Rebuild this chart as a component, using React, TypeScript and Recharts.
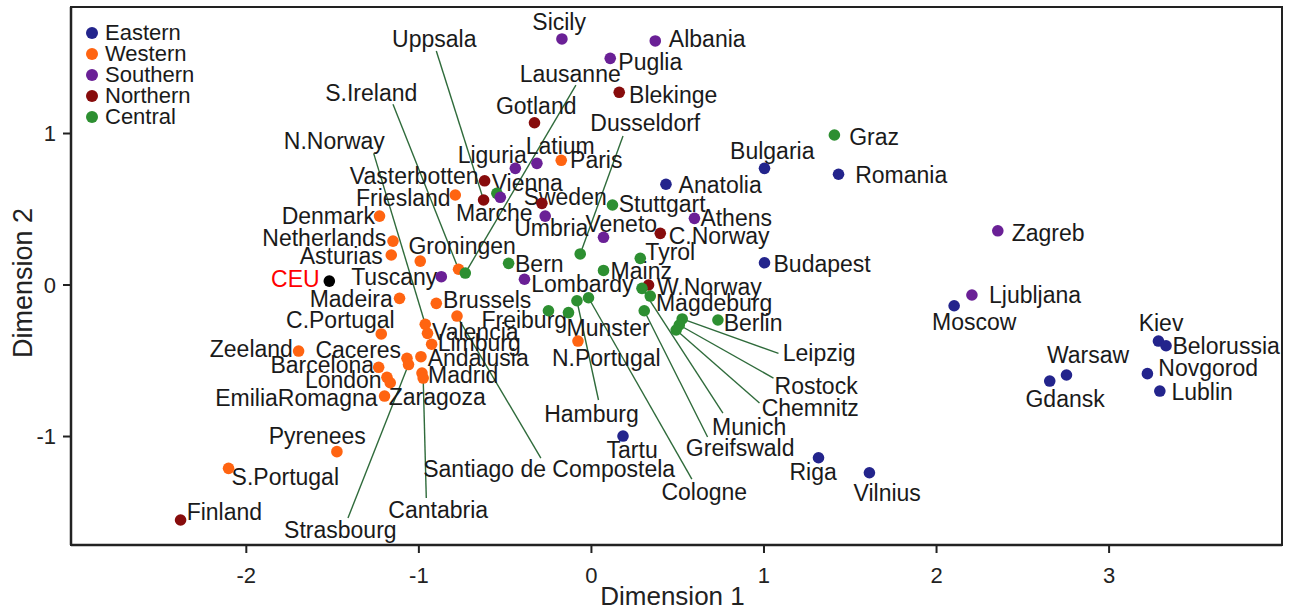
import React from 'react';
import { ScatterChart, Scatter, XAxis, YAxis, ReferenceLine, ReferenceArea } from 'recharts';

type Pt = { name: string; x: number; y: number; lx: number; ly: number };

// x, y = point; lx, ly = centre of its label (data units)
const eastern: Pt[] = [
  { name: 'Anatolia', x: 0.432, y: 0.665, lx: 0.746, ly: 0.66 },
  { name: 'Bulgaria', x: 1.003, y: 0.77, lx: 1.048, ly: 0.884 },
  { name: 'Romania', x: 1.432, y: 0.731, lx: 1.795, ly: 0.726 },
  { name: 'Budapest', x: 1.003, y: 0.147, lx: 1.337, ly: 0.139 },
  { name: 'Moscow', x: 2.102, y: -0.137, lx: 2.218, ly: -0.244 },
  { name: 'Kiev', x: 3.286, y: -0.37, lx: 3.301, ly: -0.251 },
  { name: 'Belorussia', x: 3.33, y: -0.401, lx: 3.678, ly: -0.403 },
  { name: 'Novgorod', x: 3.222, y: -0.585, lx: 3.574, ly: -0.548 },
  { name: 'Lublin', x: 3.294, y: -0.7, lx: 3.539, ly: -0.706 },
  { name: 'Warsaw', x: 2.753, y: -0.594, lx: 2.878, ly: -0.462 },
  { name: 'Gdansk', x: 2.656, y: -0.634, lx: 2.745, ly: -0.752 },
  { name: 'Riga', x: 1.316, y: -1.14, lx: 1.285, ly: -1.234 },
  { name: 'Vilnius', x: 1.611, y: -1.239, lx: 1.714, ly: -1.373 },
  { name: 'Tartu', x: 0.183, y: -0.997, lx: 0.236, ly: -1.089 },
];

const western: Pt[] = [
  { name: 'Paris', x: -0.175, y: 0.823, lx: 0.028, ly: 0.825 },
  { name: 'Friesland', x: -0.789, y: 0.594, lx: -1.09, ly: 0.574 },
  { name: 'Denmark', x: -1.228, y: 0.455, lx: -1.525, ly: 0.455 },
  { name: 'Netherlands', x: -1.15, y: 0.29, lx: -1.548, ly: 0.31 },
  { name: 'Asturias', x: -1.16, y: 0.198, lx: -1.45, ly: 0.191 },
  { name: 'Groningen', x: -0.992, y: 0.158, lx: -0.749, ly: 0.257 },
  { name: 'S.Ireland', x: -0.77, y: 0.104, lx: -1.276, ly: 1.267 },
  { name: 'Madeira', x: -1.112, y: -0.088, lx: -1.392, ly: -0.092 },
  { name: 'Brussels', x: -0.899, y: -0.121, lx: -0.604, ly: -0.099 },
  { name: 'Santiago de Compostela', x: -0.779, y: -0.205, lx: -0.245, ly: -1.215 },
  { name: 'C.Portugal', x: -1.218, y: -0.323, lx: -1.455, ly: -0.231 },
  { name: 'Zeeland', x: -1.697, y: -0.436, lx: -1.971, ly: -0.422 },
  { name: 'N.Norway', x: -0.963, y: -0.259, lx: -1.49, ly: 0.95 },
  { name: 'Valencia', x: -0.95, y: -0.319, lx: -0.673, ly: -0.31 },
  { name: 'Limburg', x: -0.926, y: -0.391, lx: -0.65, ly: -0.383 },
  { name: 'Andalusia', x: -0.988, y: -0.473, lx: -0.656, ly: -0.482 },
  { name: 'Caceres', x: -1.069, y: -0.484, lx: -1.351, ly: -0.429 },
  { name: 'Strasbourg', x: -1.06, y: -0.525, lx: -1.455, ly: -1.617 },
  { name: 'Madrid', x: -0.982, y: -0.581, lx: -0.743, ly: -0.594 },
  { name: 'Cantabria', x: -0.975, y: -0.614, lx: -0.888, ly: -1.485 },
  { name: 'Barcelona', x: -1.233, y: -0.543, lx: -1.56, ly: -0.528 },
  { name: 'London', x: -1.185, y: -0.609, lx: -1.438, ly: -0.627 },
  { name: 'Zaragoza', x: -1.166, y: -0.645, lx: -0.893, ly: -0.739 },
  { name: 'EmiliaRomagna', x: -1.199, y: -0.733, lx: -1.71, ly: -0.746 },
  { name: 'Pyrenees', x: -1.475, y: -1.1, lx: -1.589, ly: -0.997 },
  { name: 'S.Portugal', x: -2.103, y: -1.21, lx: -1.774, ly: -1.267 },
  { name: 'N.Portugal', x: -0.078, y: -0.37, lx: 0.086, ly: -0.482 },
];

const southern: Pt[] = [
  { name: 'Sicily', x: -0.171, y: 1.624, lx: -0.187, ly: 1.736 },
  { name: 'Albania', x: 0.37, y: 1.611, lx: 0.671, ly: 1.624 },
  { name: 'Puglia', x: 0.109, y: 1.496, lx: 0.341, ly: 1.472 },
  { name: 'Liguria', x: -0.441, y: 0.77, lx: -0.575, ly: 0.858 },
  { name: 'Latium', x: -0.316, y: 0.803, lx: -0.181, ly: 0.917 },
  { name: 'Marche', x: -0.528, y: 0.579, lx: -0.563, ly: 0.475 },
  { name: 'Umbria', x: -0.268, y: 0.455, lx: -0.233, ly: 0.376 },
  { name: 'Veneto', x: 0.07, y: 0.315, lx: 0.173, ly: 0.403 },
  { name: 'Athens', x: 0.597, y: 0.44, lx: 0.839, ly: 0.442 },
  { name: 'Tuscany', x: -0.87, y: 0.055, lx: -1.143, ly: 0.053 },
  { name: 'Lombardy', x: -0.388, y: 0.038, lx: -0.053, ly: 0.007 },
  { name: 'Zagreb', x: 2.355, y: 0.358, lx: 2.647, ly: 0.343 },
  { name: 'Ljubljana', x: 2.205, y: -0.066, lx: 2.571, ly: -0.066 },
];

const northern: Pt[] = [
  { name: 'Finland', x: -2.381, y: -1.551, lx: -2.127, ly: -1.498 },
  { name: 'Gotland', x: -0.33, y: 1.071, lx: -0.32, ly: 1.182 },
  { name: 'Blekinge', x: 0.161, y: 1.272, lx: 0.474, ly: 1.254 },
  { name: 'Vasterbotten', x: -0.619, y: 0.688, lx: -1.027, ly: 0.719 },
  { name: 'Uppsala', x: -0.625, y: 0.561, lx: -0.911, ly: 1.624 },
  { name: 'Sweden', x: -0.287, y: 0.539, lx: -0.152, ly: 0.581 },
  { name: 'C.Norway', x: 0.399, y: 0.341, lx: 0.74, ly: 0.323 },
  { name: 'W.Norway', x: 0.331, y: 0.0, lx: 0.683, ly: -0.013 },
];

const central: Pt[] = [
  { name: 'Graz', x: 1.408, y: 0.99, lx: 1.638, ly: 0.977 },
  { name: 'Stuttgart', x: 0.122, y: 0.528, lx: 0.41, ly: 0.535 },
  { name: 'Vienna', x: -0.548, y: 0.605, lx: -0.372, ly: 0.673 },
  { name: 'Dusseldorf', x: -0.065, y: 0.205, lx: 0.312, ly: 1.069 },
  { name: 'Lausanne', x: -0.731, y: 0.079, lx: -0.123, ly: 1.393 },
  { name: 'Bern', x: -0.48, y: 0.143, lx: -0.302, ly: 0.139 },
  { name: 'Tyrol', x: 0.283, y: 0.176, lx: 0.457, ly: 0.218 },
  { name: 'Mainz', x: 0.07, y: 0.096, lx: 0.289, ly: 0.092 },
  { name: 'Freiburg', x: -0.249, y: -0.17, lx: -0.389, ly: -0.231 },
  { name: 'Munster', x: -0.133, y: -0.182, lx: 0.097, ly: -0.284 },
  { name: 'Hamburg', x: -0.084, y: -0.104, lx: 0.0, ly: -0.851 },
  { name: 'Cologne', x: -0.017, y: -0.084, lx: 0.654, ly: -1.366 },
  { name: 'Munich', x: 0.293, y: -0.022, lx: 0.914, ly: -0.937 },
  { name: 'Magdeburg', x: 0.341, y: -0.073, lx: 0.711, ly: -0.119 },
  { name: 'Greifswald', x: 0.306, y: -0.17, lx: 0.862, ly: -1.076 },
  { name: 'Berlin', x: 0.733, y: -0.231, lx: 0.937, ly: -0.251 },
  { name: 'Leipzig', x: 0.526, y: -0.224, lx: 1.32, ly: -0.449 },
  { name: 'Rostock', x: 0.509, y: -0.264, lx: 1.302, ly: -0.667 },
  { name: 'Chemnitz', x: 0.491, y: -0.297, lx: 1.268, ly: -0.812 },
];

const ceu: Pt[] = [{ name: 'CEU', x: -1.519, y: 0.026, lx: -1.716, ly: 0.04 }];

// where each leader line meets its label
const leaders = [
  { name: 'S.Ireland', x: -1.15, y: 1.193 },
  { name: 'Uppsala', x: -0.899, y: 1.545 },
  { name: 'N.Norway', x: -1.262, y: 0.869 },
  { name: 'Strasbourg', x: -1.411, y: -1.538 },
  { name: 'Cantabria', x: -0.957, y: -1.406 },
  { name: 'Santiago de Compostela', x: -0.293, y: -1.142 },
  { name: 'Hamburg', x: 0.041, y: -0.759 },
  { name: 'Cologne', x: 0.582, y: -1.281 },
  { name: 'Greifswald', x: 0.673, y: -1.003 },
  { name: 'Munich', x: 0.762, y: -0.845 },
  { name: 'Chemnitz', x: 0.974, y: -0.779 },
  { name: 'Rostock', x: 1.055, y: -0.614 },
  { name: 'Leipzig', x: 1.084, y: -0.451 },
  { name: 'Lausanne', x: -0.09, y: 1.32 },
  { name: 'Dusseldorf', x: 0.183, y: 0.983 },
];

const groupNames = ['Eastern', 'Western', 'Southern', 'Northern', 'Central'];
const groupData = [eastern, western, southern, northern, central];
const groupColors = ['#23248c', '#ff6411', '#6a2096', '#870c0c', '#2d8f31'];
const drawOrder = [3, 0, 1, 4, 2];

const xTicks = [-2, -1, 0, 1, 2, 3];
const yTicks = [-1, 0, 1];
const xDomain: [number, number] = [-3.016, 4.002];
const yDomain: [number, number] = [-1.716, 1.835];

const FONT = '"Liberation Sans", Arial, Helvetica, sans-serif';
const allPoints = [...eastern, ...western, ...southern, ...northern, ...central, ...ceu];
const labelData = allPoints.map(p => ({ x: p.lx, y: p.ly, name: p.name }));

const dot = (color: string) => (props: any) => (
  <circle cx={props.cx} cy={props.cy} r={5.8} fill={color} />
);

const LabelText = (props: any) => (
  <text
    x={props.cx}
    y={props.cy}
    dy="0.35em"
    textAnchor="middle"
    fontSize={23}
    fontFamily={FONT}
    fill={props.payload.name === 'CEU' ? '#ff0000' : '#1a1a1a'}
  >
    {props.payload.name}
  </text>
);

const YTitle = (props: any) => {
  const vb = props.viewBox || { y: 7, height: 538 };
  const cx = 23;
  const cy = vb.y + vb.height / 2 + 7;
  return (
    <text x={cx} y={cy} dy="0.35em" textAnchor="middle" fontSize={27} fontFamily={FONT} fill="#222"
      transform={`rotate(-90 ${cx} ${cy})`}>
      Dimension 2
    </text>
  );
};

const XTitle = (props: any) => {
  const vb = props.viewBox || { x: 71, width: 1211 };
  return (
    <text x={vb.x + vb.width / 2 - 4} y={605} textAnchor="middle" fontSize={26} fontFamily={FONT} fill="#222">
      Dimension 1
    </text>
  );
};

export default function App() {
  return (
    <div style={{ position: 'absolute', left: 0, top: 0, width: 1290, height: 611, background: '#fff' }}>
      <ScatterChart width={1290} height={611} margin={{ top: 7, right: 8, bottom: 0, left: 0 }}>
        <XAxis
          type="number"
          dataKey="x"
          domain={xDomain}
          ticks={xTicks}
          allowDataOverflow
          height={66}
          tickSize={8}
          tickMargin={14}
          axisLine={{ stroke: '#222', strokeWidth: 2.5 }}
          tickLine={{ stroke: '#222', strokeWidth: 2 }}
          tick={{ fill: '#222', fontSize: 22, fontFamily: FONT }}
          label={{ content: XTitle }}
        />
        <YAxis
          type="number"
          dataKey="y"
          domain={yDomain}
          ticks={yTicks}
          allowDataOverflow
          width={71}
          tickSize={8}
          tickMargin={7}
          axisLine={{ stroke: '#222', strokeWidth: 2.5 }}
          tickLine={{ stroke: '#222', strokeWidth: 2 }}
          tick={{ fill: '#222', fontSize: 22, fontFamily: FONT }}
          label={{ content: YTitle }}
        />
        <ReferenceArea
          x1={xDomain[0]}
          x2={xDomain[1]}
          y1={yDomain[0]}
          y2={yDomain[1]}
          fill="none"
          stroke="#222"
          strokeWidth={2}
          ifOverflow="visible"
        />
        <Scatter data={labelData} shape={LabelText} isAnimationActive={false} />
        {leaders.map(l => {
          const p = allPoints.find(q => q.name === l.name)!;
          return (
            <ReferenceLine
              key={l.name}
              segment={[{ x: p.x, y: p.y }, { x: l.x, y: l.y }]}
              stroke="#2f6b3b"
              strokeWidth={1.4}
              ifOverflow="visible"
            />
          );
        })}
        {drawOrder.map(i => (
          <Scatter
            key={groupNames[i]}
            name={groupNames[i]}
            data={groupData[i]}
            shape={dot(groupColors[i])}
            isAnimationActive={false}
          />
        ))}
        <Scatter name="CEU" data={ceu} shape={dot('#000000')} isAnimationActive={false} />
      </ScatterChart>
      <div style={{ position: 'absolute', left: 86, top: 22, fontFamily: FONT, fontSize: 22, color: '#1a1a1a' }}>
        {groupNames.map((g, i) => (
          <div key={g} style={{ display: 'flex', alignItems: 'center', height: 21.2 }}>
            <span style={{ display: 'inline-block', width: 12, height: 12, borderRadius: 6, background: groupColors[i], marginRight: 7 }} />
            {g}
          </div>
        ))}
      </div>
    </div>
  );
}
